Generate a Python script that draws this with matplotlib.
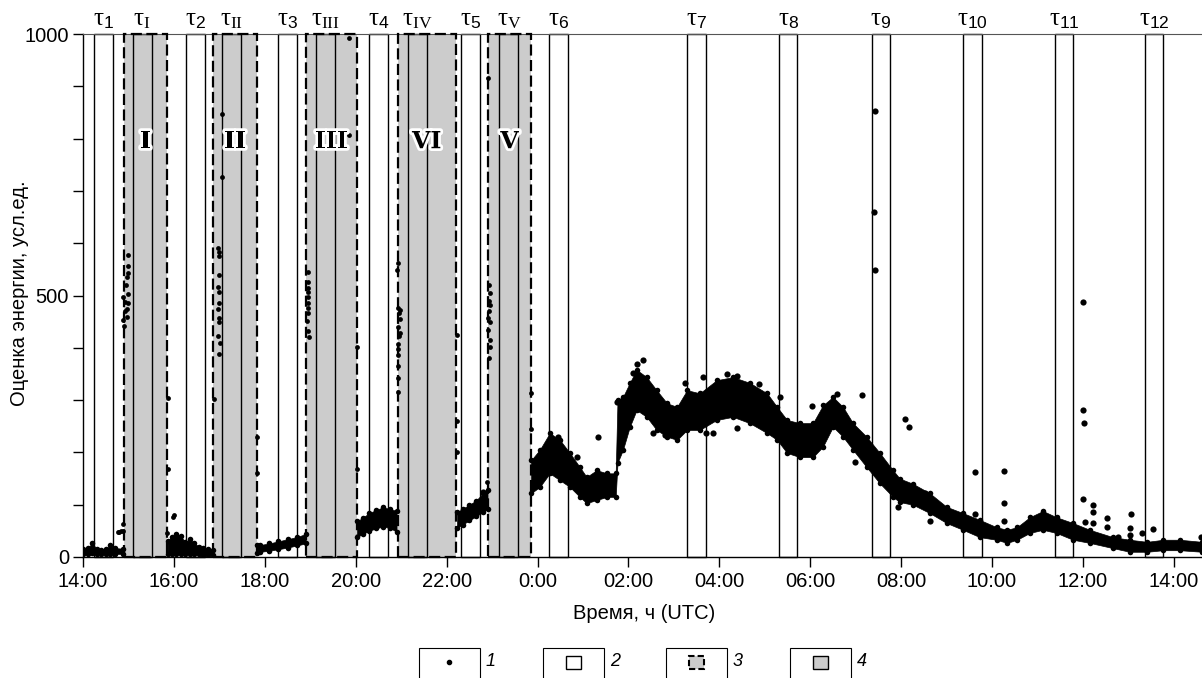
import numpy as np
import matplotlib
matplotlib.use('Agg')
import matplotlib.pyplot as plt
from matplotlib.patches import Rectangle
from matplotlib.lines import Line2D
import matplotlib.patheffects as pe
from matplotlib.ticker import FixedLocator

plt.rcParams['font.family'] = ['Liberation Sans', 'DejaVu Sans']
plt.rcParams['mathtext.fontset'] = 'custom'
plt.rcParams['mathtext.rm'] = 'Liberation Serif'
plt.rcParams['mathtext.sf'] = 'Liberation Sans'
plt.rcParams['mathtext.it'] = 'Liberation Serif:italic'
plt.rcParams['mathtext.bf'] = 'Liberation Serif:bold'

# ---------------- data (time in hours from 0:00 of day 1) ----------------
tau_subs = ['1', 'I', '2', 'II', '3', 'III', '4', 'IV', '5', 'V', '6',
            '7', '8', '9', '10', '11', '12']
tau_start = [14.25, 15.09, 16.27, 17.05, 18.28, 19.13, 20.30, 21.14, 22.32,
             23.16, 24.26, 27.28, 29.31, 31.35, 33.36, 35.38, 37.36]
tau_end = [14.67, 15.51, 16.68, 17.47, 18.70, 19.54, 20.72, 21.56, 22.73,
           23.58, 24.68, 27.70, 29.72, 31.75, 33.78, 35.79, 37.77]

region_names = ['I', 'II', 'III', 'VI', 'V']
region_start = [14.90, 16.87, 18.905, 20.92, 22.915]
region_end = [15.855, 17.82, 20.02, 22.205, 23.85]

xtick_pos = [14, 16, 18, 20, 22, 24, 26, 28, 30, 32, 34, 36, 38]
xtick_labels = ['14:00', '16:00', '18:00', '20:00', '22:00', '0:00', '02:00',
                '04:00', '06:00', '08:00', '10:00', '12:00', '14:00']
ytick_pos = [0, 100, 200, 300, 400, 500, 600, 700, 800, 900, 1000]
ytick_labels = ['0', '', '', '', '', '500', '', '', '', '', '1000']

# dense band of points: time, lower and upper envelope
seg1_t = [14.00, 14.10, 14.20, 14.30, 14.40, 14.50, 14.60, 14.70, 14.88]
seg1_lo = [5, 6, 8, 5, 5, 5, 6, 6, 6]
seg1_hi = [15, 17, 26, 16, 14, 15, 22, 17, 16]

seg2_t = [15.86, 15.95, 16.05, 16.15, 16.25, 16.35, 16.45, 16.55, 16.65, 16.75, 16.85]
seg2_lo = [6, 6, 6, 6, 6, 6, 5, 5, 4, 4, 4]
seg2_hi = [30, 38, 44, 40, 28, 34, 26, 20, 18, 15, 14]

seg3_t = [17.83, 17.90, 18.10, 18.30, 18.50, 18.70, 18.90]
seg3_lo = [8, 10, 12, 15, 18, 22, 26]
seg3_hi = [22, 23, 26, 30, 34, 38, 44]

seg4_t = [20.03, 20.15, 20.30, 20.45, 20.60, 20.75, 20.90]
seg4_lo = [38, 44, 50, 55, 58, 56, 48]
seg4_hi = [68, 75, 84, 90, 95, 92, 88]

seg5_t = [22.23, 22.35, 22.50, 22.65, 22.80, 22.90]
seg5_lo = [56, 62, 70, 78, 86, 92]
seg5_hi = [86, 92, 100, 108, 122, 128]

seg6_t = [23.86, 24.05, 24.27, 24.49, 24.71, 24.93, 25.08, 25.30, 25.53, 25.72,
          25.76, 25.88, 26.03, 26.18, 26.40, 26.62, 26.85, 27.07, 27.29, 27.57,
          27.94, 28.30, 28.67, 29.05, 29.27, 29.49, 29.77, 30.06, 30.28, 30.50,
          30.72, 30.94, 31.24, 31.53, 31.82, 31.97, 32.26, 32.63, 33.00, 33.36,
          33.73, 34.10, 34.33, 34.55, 34.83, 35.12, 35.42, 35.78, 36.15, 36.66,
          37.03, 37.41, 37.77, 38.13, 38.62]
seg6_lo = [122, 134, 160, 147, 134, 115, 103, 109, 115, 115,
           180, 205, 249, 281, 268, 243, 230, 224, 243, 243,
           262, 268, 256, 237, 224, 199, 191, 191, 211, 249,
           230, 205, 172, 141, 115, 105, 100, 84, 65, 52,
           38, 33, 27, 33, 46, 52, 46, 33, 27, 17,
           10, 10, 13, 13, 10]
seg6_hi = [185, 205, 237, 224, 199, 172, 153, 166, 160, 160,
           300, 306, 333, 358, 344, 319, 294, 287, 319, 313,
           338, 344, 333, 313, 287, 262, 256, 256, 290, 306,
           287, 256, 230, 199, 166, 150, 140, 122, 96, 84,
           71, 57, 52, 57, 76, 88, 76, 65, 52, 38,
           33, 29, 33, 33, 29]

# isolated points in the bursts at the region edges
burst_t = [14.76, 14.80, 14.84, 14.87, 14.88,
           14.99, 15.00, 14.98, 14.97, 15.00, 14.89, 14.93, 14.99, 14.96, 14.97,
           14.90, 14.88, 14.95, 14.92,
           15.86, 15.86, 15.85, 15.99, 16.00,
           17.05, 17.05, 16.98, 17.00, 16.99, 17.00, 16.98, 16.99, 16.99, 16.97,
           16.99, 17.00, 16.98, 17.01, 16.99, 16.88,
           17.83, 17.83,
           18.95, 18.94, 18.96, 18.95, 18.96, 18.94, 18.96, 18.94, 18.93, 18.96,
           18.98, 19.85, 19.86,
           20.03, 20.03,
           20.92, 20.90, 20.94, 20.96, 20.93, 20.96, 20.92, 20.94, 20.92, 20.93,
           20.92, 20.93, 20.97, 20.98, 20.97,
           22.23, 22.23, 22.23,
           22.90, 22.93, 22.95, 22.93, 22.95, 22.93, 22.92, 22.95, 22.92, 22.96,
           22.95, 22.94, 22.88,
           23.85, 23.85]
burst_v = [47, 48, 49, 50, 63,
           577, 556, 543, 535, 503, 497, 488, 486, 474, 459,
           442, 453, 520, 470,
           304, 168, 46, 77, 80,
           847, 727, 590, 575, 583, 539, 516, 507, 486, 474,
           457, 449, 423, 409, 388, 302,
           229, 160,
           545, 525, 515, 507, 497, 486, 476, 466, 451, 432,
           421, 992, 807,
           402, 168,
           562, 549, 476, 467, 440, 423, 407, 398, 386, 365,
           342, 316, 472, 455, 428,
           424, 260, 201,
           916, 520, 505, 490, 482, 470, 457, 449, 434, 415,
           402, 380, 143,
           313, 245]

# scattered points around the main night-time band
scat_t = [22.80, 24.45, 24.86, 25.33, 25.75, 26.10, 26.18, 26.32, 26.54, 26.80,
          27.24, 27.64, 27.70, 27.86, 28.16, 28.38, 28.38, 28.87, 29.33, 30.04,
          30.59, 30.98, 31.14, 31.40, 31.42, 31.42, 31.93, 32.08, 32.17, 32.52,
          32.63, 33.63, 33.63, 34.26, 34.26, 34.26, 36.00, 36.00, 36.02, 36.00,
          36.04, 36.22, 36.22, 36.22, 36.52, 36.52, 36.77, 37.03, 37.05, 37.03,
          37.29, 37.54, 38.60]
scat_v = [124, 230, 191, 230, 296, 352, 369, 377, 237, 233,
          333, 344, 237, 237, 350, 346, 247, 331, 306, 289,
          312, 182, 310, 660, 853, 549, 96, 264, 248, 122,
          68, 162, 82, 164, 103, 69, 488, 281, 256, 111,
          67, 99, 86, 65, 74, 58, 38, 55, 82, 42,
          46, 53, 38]

# ---------------- figure ----------------
W, H = 1202, 678
fig = plt.figure(figsize=(W / 100, H / 100), dpi=100)
ax = fig.add_axes([83 / W, 1 - 557 / H, 1 - 83 / W, (557 - 34) / H])
ax.set_xlim(14, 38.62)
ax.set_ylim(0, 1000)

GRAY = '#cccccc'

for s, e in zip(region_start, region_end):
    ax.add_patch(Rectangle((s, 0), e - s, 1000, facecolor=GRAY, edgecolor='none', zorder=1))
for s, e in zip(tau_start, tau_end):
    ax.add_patch(Rectangle((s, 0), e - s, 1000, facecolor='none', edgecolor='black',
                           lw=1.0, zorder=2, clip_on=False))
for s, e in zip(region_start, region_end):
    ax.add_patch(Rectangle((s, 0), e - s, 1000, facecolor='none', edgecolor='black',
                           lw=1.6, linestyle=(0, (5, 2)), zorder=3, clip_on=False))

for t, lo, hi in [(seg1_t, seg1_lo, seg1_hi), (seg2_t, seg2_lo, seg2_hi),
                  (seg3_t, seg3_lo, seg3_hi), (seg4_t, seg4_lo, seg4_hi),
                  (seg5_t, seg5_lo, seg5_hi), (seg6_t, seg6_lo, seg6_hi)]:
    ax.fill_between(t, lo, hi, color='black', lw=0.5, zorder=4)
    ax.scatter(t, lo, s=16, c='black', lw=0, zorder=4)
    ax.scatter(t, hi, s=16, c='black', lw=0, zorder=4)

ax.scatter(burst_t, burst_v, s=12, c='black', lw=0, zorder=5)
ax.scatter(scat_t, scat_v, s=20, c='black', lw=0, zorder=5)

# region labels
for name, s, e in zip(region_names, region_start, region_end):
    ax.text((s + e) / 2, 795, name, ha='center', va='center', fontsize=17,
            fontweight='bold', family='DejaVu Serif', zorder=6,
            path_effects=[pe.withStroke(linewidth=4, foreground='white')])

# tau labels
for sub, s, e in zip(tau_subs, tau_start, tau_end):
    if sub.isdigit():
        lab = r'$\mathrm{\tau}_{\mathsf{%s}}$' % sub
    else:
        lab = r'$\mathrm{\tau}_{\mathrm{%s}}$' % sub
    ax.text((s + e) / 2, 1006, lab, ha='center', va='bottom', fontsize=18,
            clip_on=False)

# axes styling
for side in ['left', 'bottom']:
    ax.spines[side].set_color('black')
    ax.spines[side].set_linewidth(1.0)
ax.spines['right'].set_visible(False)
ax.spines['top'].set_color('#555555')
ax.spines['top'].set_linewidth(0.8)

ax.xaxis.set_major_locator(FixedLocator(xtick_pos))
ax.set_xticklabels(xtick_labels)
ax.yaxis.set_major_locator(FixedLocator(ytick_pos))
ax.set_yticklabels(ytick_labels)
ax.tick_params(axis='both', which='both', direction='out', length=7, width=1,
               labelsize=14.5)
ax.tick_params(axis='x', pad=4)
ax.tick_params(axis='y', pad=3)

ax.set_xlabel('Время, ч (UTC)', fontsize=14.5)
ax.xaxis.set_label_coords((644 - 83) / (W - 83), (557 - 604) / 523)
ax.set_ylabel('Оценка энергии, усл.ед.', fontsize=14.5)
ax.yaxis.set_label_coords((29 - 83) / (W - 83), (557 - 293) / 523)

# legend boxes drawn at the bottom of the figure
def fx(px):
    return px / W

def fy(py):
    return 1 - py / H

box_left = [419, 543, 666, 790]
for i, bl in enumerate(box_left):
    fig.add_artist(Rectangle((fx(bl), fy(700)), 61 / W, 52 / H, transform=fig.transFigure,
                             facecolor='white', edgecolor='black', lw=0.8))
    cx = bl + 30.5
    if i == 0:
        fig.add_artist(Line2D([fx(cx - 1)], [fy(662)], marker='o', ms=3, color='black',
                              transform=fig.transFigure))
    elif i == 1:
        fig.add_artist(Rectangle((fx(cx - 8), fy(669)), 15 / W, 13 / H,
                                 transform=fig.transFigure, facecolor='white',
                                 edgecolor='black', lw=1))
    elif i == 2:
        fig.add_artist(Rectangle((fx(cx - 8), fy(669)), 15 / W, 13 / H,
                                 transform=fig.transFigure, facecolor=GRAY,
                                 edgecolor='black', lw=1.5, linestyle=(0, (3, 1.5))))
    else:
        fig.add_artist(Rectangle((fx(cx - 8), fy(669)), 15 / W, 13 / H,
                                 transform=fig.transFigure, facecolor=GRAY,
                                 edgecolor='black', lw=1))
    fig.text(fx(bl + 67), fy(662), str(i + 1), ha='left', va='center',
             fontsize=13, style='italic')

fig.savefig('out.png', dpi=100)
